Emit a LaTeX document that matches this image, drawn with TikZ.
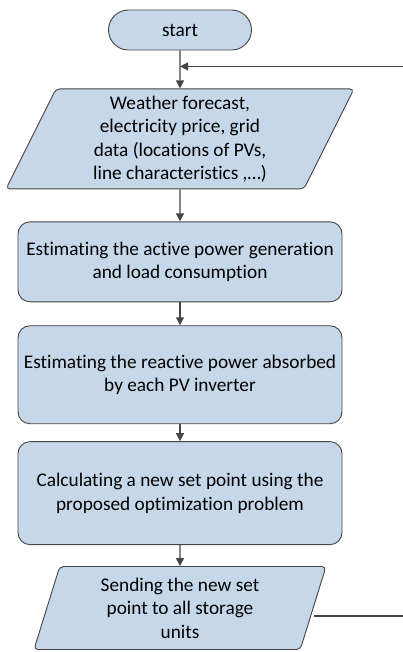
\documentclass[tikz,border=0pt]{standalone}
\usepackage{fontspec}
\setmainfont[Ligatures=NoCommon]{Carlito}
\usetikzlibrary{shapes.geometric,positioning,calc,arrows.meta}
\definecolor{boxfill}{HTML}{C5D7E8}
\definecolor{boxline}{HTML}{454545}

\begin{document}
\begin{tikzpicture}[node distance=30pt,
  >={Triangle[length=8pt,width=8pt]},
  base/.style={draw=boxline, fill=boxfill, line width=0.9pt, align=center,
    font=\fontsize{19.3}{23.5}\selectfont},
  term/.style={base, rectangle, rounded corners=20pt,
    minimum width=143pt, minimum height=40pt},
  proc/.style={base, rectangle, rounded corners=12pt, minimum width=324pt,
    inner xsep=2pt},
  inout/.style={base, trapezium, rounded corners=4pt, inner sep=0pt,
    trapezium stretches body=true},
  line/.style={draw=boxline, line width=1.1pt, ->}]
    \clip (-180pt,30pt) rectangle (223pt,-622pt);
    \node (start) [term] {start};
    \node (inp) [inout, below=38pt of start, trapezium left angle=60,
      trapezium right angle=120, minimum width=348pt, minimum height=100pt]
      {Weather forecast,\\ electricity price, grid\\ data (locations of PVs,\\ line characteristics ,…)};
    \node (est1) [proc, below=32pt of inp, minimum height=80pt]
      {Estimating the active power generation\\ and load consumption};
    \node (est2) [proc, below=23pt of est1, minimum height=98pt]
      {Estimating the reactive power absorbed\\ by each PV inverter};
    \node (calc) [proc, below=17pt of est2, minimum height=103pt]
      {Calculating a new set point using the\\ proposed optimization problem};
    \node (send) [inout, below=21pt of calc, trapezium left angle=67,
      trapezium right angle=113, minimum width=292pt, minimum height=83pt]
      {Sending the new set\\ point to all storage\\ units};
    % main flow
    \draw[line] (start) -- (inp);
    \draw[line] (inp) -- (est1);
    \draw[line] (est1) -- (est2);
    \draw[line] (est2) -- (calc);
    \draw[line] (calc) -- (send);
    % feedback loop
    \coordinate (join) at ($(start.south)!0.42!(inp.north)$);
    \draw[line] ($(send.east)+(0,-8pt)$) -- ++(100pt,0) |- (join);
\end{tikzpicture}
\end{document}
